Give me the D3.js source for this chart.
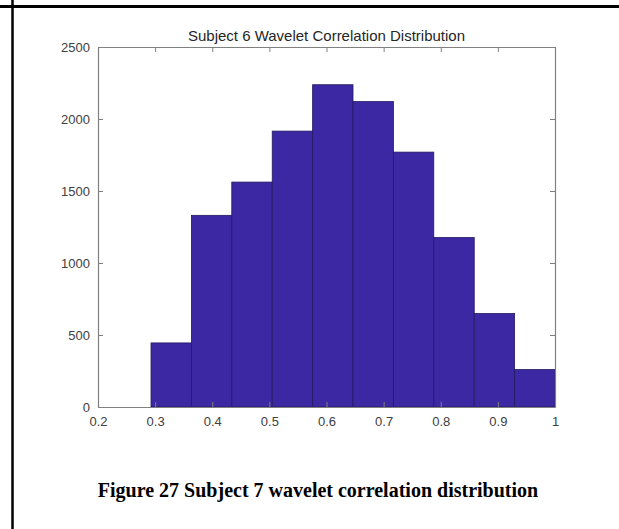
<!DOCTYPE html>
<html>
<head>
<meta charset="utf-8">
<script src="https://cdn.jsdelivr.net/npm/d3@7/dist/d3.min.js"></script>
<style>
  html, body { margin: 0; padding: 0; background: #fff; }
  svg { display: block; }
</style>
</head>
<body>
<svg id="chart" width="619" height="529"></svg>
<script>
// Histogram bin edges and counts
const binEdges = [0.2928, 0.3635, 0.4342, 0.5050, 0.5757, 0.6464, 0.7171, 0.7878, 0.8586, 0.9293, 1.0];
const binCounts = [445, 1331, 1562, 1916, 2238, 2121, 1770, 1177, 649, 260];
const xTicks = [0.2, 0.3, 0.4, 0.5, 0.6, 0.7, 0.8, 0.9, 1];
const yTicks = [0, 500, 1000, 1500, 2000, 2500];
const chartTitle = "Subject 6 Wavelet Correlation Distribution";
const caption = "Figure 27 Subject 7 wavelet correlation distribution";

const svg = d3.select("#chart");
const W = 619, H = 529;
const plot = { left: 98, right: 555, top: 47, bottom: 407 };

// Document table border
svg.append("line").attr("x1", 0).attr("x2", W).attr("y1", 6.5).attr("y2", 6.5)
  .attr("stroke", "#000").attr("stroke-width", 3);
svg.append("line").attr("x1", 12.5).attr("x2", 12.5).attr("y1", 0).attr("y2", H)
  .attr("stroke", "#000").attr("stroke-width", 2.5);

const x = d3.scaleLinear().domain([0.2, 1]).range([plot.left, plot.right]);
const y = d3.scaleLinear().domain([0, 2500]).range([plot.bottom, plot.top]);

const bins = binCounts.map((c, i) => ({ x0: binEdges[i], x1: binEdges[i + 1], count: c }));

// Bars
svg.append("g").selectAll("rect").data(bins).join("rect")
  .attr("x", d => x(d.x0))
  .attr("y", d => y(d.count))
  .attr("width", d => x(d.x1) - x(d.x0))
  .attr("height", d => y(0) - y(d.count))
  .attr("fill", "#3b28a2")
  .attr("stroke", "#231a63")
  .attr("stroke-width", 0.8);

const axisColor = "#808080";
const labelColor = "#404040";
const fontFam = "'Liberation Sans', Arial, Helvetica, sans-serif";

function styleAxis(g) {
  g.select(".domain").attr("stroke", axisColor).attr("stroke-width", 1.2);
  g.selectAll(".tick line").attr("stroke", axisColor).attr("stroke-width", 1);
  g.selectAll(".tick text").attr("fill", labelColor)
    .style("font-family", fontFam).style("font-size", "13px");
}

// Bottom axis
svg.append("g").attr("transform", `translate(0,${plot.bottom})`)
  .call(d3.axisBottom(x).tickValues(xTicks).tickFormat(d3.format("~g"))
    .tickSizeInner(-5).tickSizeOuter(0).tickPadding(10))
  .call(styleAxis);

// Left axis
svg.append("g").attr("transform", `translate(${plot.left},0)`)
  .call(d3.axisLeft(y).tickValues(yTicks).tickFormat(d3.format("d"))
    .tickSizeInner(-5).tickSizeOuter(0).tickPadding(8))
  .call(styleAxis);

// Top and right box edges with mirrored ticks
svg.append("g").attr("transform", `translate(0,${plot.top})`)
  .call(d3.axisTop(x).tickValues(xTicks).tickFormat("")
    .tickSizeInner(-5).tickSizeOuter(0))
  .call(styleAxis);
svg.append("g").attr("transform", `translate(${plot.right},0)`)
  .call(d3.axisRight(y).tickValues(yTicks).tickFormat("")
    .tickSizeInner(-5).tickSizeOuter(0))
  .call(styleAxis);

// Chart title
svg.append("text")
  .attr("x", (plot.left + plot.right) / 2).attr("y", 41)
  .attr("text-anchor", "middle")
  .attr("fill", "#262626")
  .style("font-family", fontFam).style("font-size", "15px")
  .text(chartTitle);

// Figure caption
svg.append("text")
  .attr("x", 318).attr("y", 497)
  .attr("text-anchor", "middle")
  .attr("fill", "#000")
  .style("font-family", "'Liberation Serif', 'Times New Roman', serif")
  .style("font-weight", "bold").style("font-size", "20px")
  .text(caption);
</script>
</body>
</html>
